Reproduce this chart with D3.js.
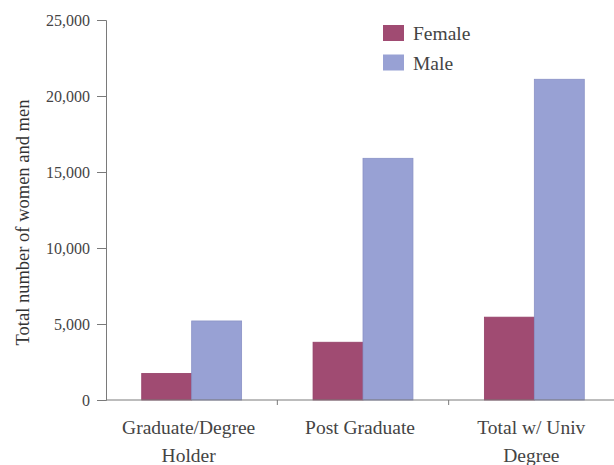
<!DOCTYPE html>
<html><head><meta charset="utf-8">
<script src="https://cdn.jsdelivr.net/npm/d3@7"></script>
<style>body{margin:0;background:#fff;}svg{display:block;}text{font-family:"Liberation Serif","Times New Roman",serif;}</style>
</head><body>
<script>
const categories = [["Graduate/Degree","Holder"],["Post Graduate"],["Total w/ Univ","Degree"]];
const categoryKeys = ["Graduate/Degree Holder","Post Graduate","Total w/ Univ Degree"];
const series = ["Female","Male"];
const female = [1750, 3800, 5450];
const male = [5200, 15900, 21100];
const yTicks = [0,5000,10000,15000,20000,25000];
const colors = {Female:"#a04b72", Male:"#98a1d4"};

(function(){
const W=614,H=465;
const svg=d3.select("body").append("svg").attr("width",W).attr("height",H);
const mLeft=106, mRight=620, mTop=20, mBottom=400;
const x0=d3.scaleBand().domain(categoryKeys).range([mLeft,mRight]).padding(0);
const x1=d3.scaleBand().domain(series).range([0,x0.bandwidth()]).paddingInner(0).paddingOuter(0.715);
const y=d3.scaleLinear().domain([0,25000]).range([mBottom,mTop]);

const data=categoryKeys.map((k,i)=>({key:k,Female:female[i],Male:male[i]}));
const g=svg.append("g");
g.selectAll("g.grp").data(data).join("g").attr("transform",d=>`translate(${x0(d.key)},0)`)
 .selectAll("rect").data(d=>series.map(s=>({s,v:d[s]}))).join("rect")
 .attr("x",d=>x1(d.s)).attr("width",x1.bandwidth()).attr("y",d=>y(d.v)).attr("height",d=>y(0)-y(d.v))
 .attr("fill",d=>colors[d.s]).attr("stroke",d=>d.s==="Male"?"#8a92c6":"#944068").attr("stroke-width",0.8);

const yAx=svg.append("g").attr("transform",`translate(${mLeft},0)`)
 .call(d3.axisLeft(y).tickValues(yTicks).tickSize(9).tickPadding(7).tickFormat(d3.format(",")));
yAx.select(".domain").attr("stroke","#7a7a7a");
yAx.selectAll(".tick line").attr("stroke","#7a7a7a");
yAx.selectAll("text").attr("font-size",16).attr("fill","#444").style("font-family","Liberation Serif");

const xAx=svg.append("g").attr("transform",`translate(0,${mBottom})`);
xAx.append("line").attr("x1",mLeft).attr("x2",W).attr("y1",0).attr("y2",0).attr("stroke","#7a7a7a");
xAx.selectAll("line.t").data(categoryKeys.slice(1)).join("line").attr("class","t")
 .attr("x1",d=>x0(d)).attr("x2",d=>x0(d)).attr("y1",0).attr("y2",5).attr("stroke","#7a7a7a");
categoryKeys.forEach((k,i)=>{
  const cx=x0(k)+x0.bandwidth()/2-3;
  const t=xAx.append("text").attr("text-anchor","middle").attr("font-size",19.5).attr("fill","#444")
   .attr("x",cx).attr("y",34);
  categories[i].forEach((line,j)=>t.append("tspan").attr("x",cx).attr("dy",j?28:0).text(line));
});

svg.append("text").attr("transform","translate(28.5,222.5) rotate(-90)").attr("text-anchor","middle")
 .attr("font-size",18.5).attr("fill","#333").text("Total number of women and men");

const lg=svg.append("g");
series.forEach((s,i)=>{
  lg.append("rect").attr("x",383).attr("y",25+i*29.5).attr("width",21).attr("height",16).attr("fill",colors[s]);
  lg.append("text").attr("x",413).attr("y",40+i*29.5).attr("font-size",19.5).attr("fill","#444").text(s);
});
})();
</script>
</body></html>
